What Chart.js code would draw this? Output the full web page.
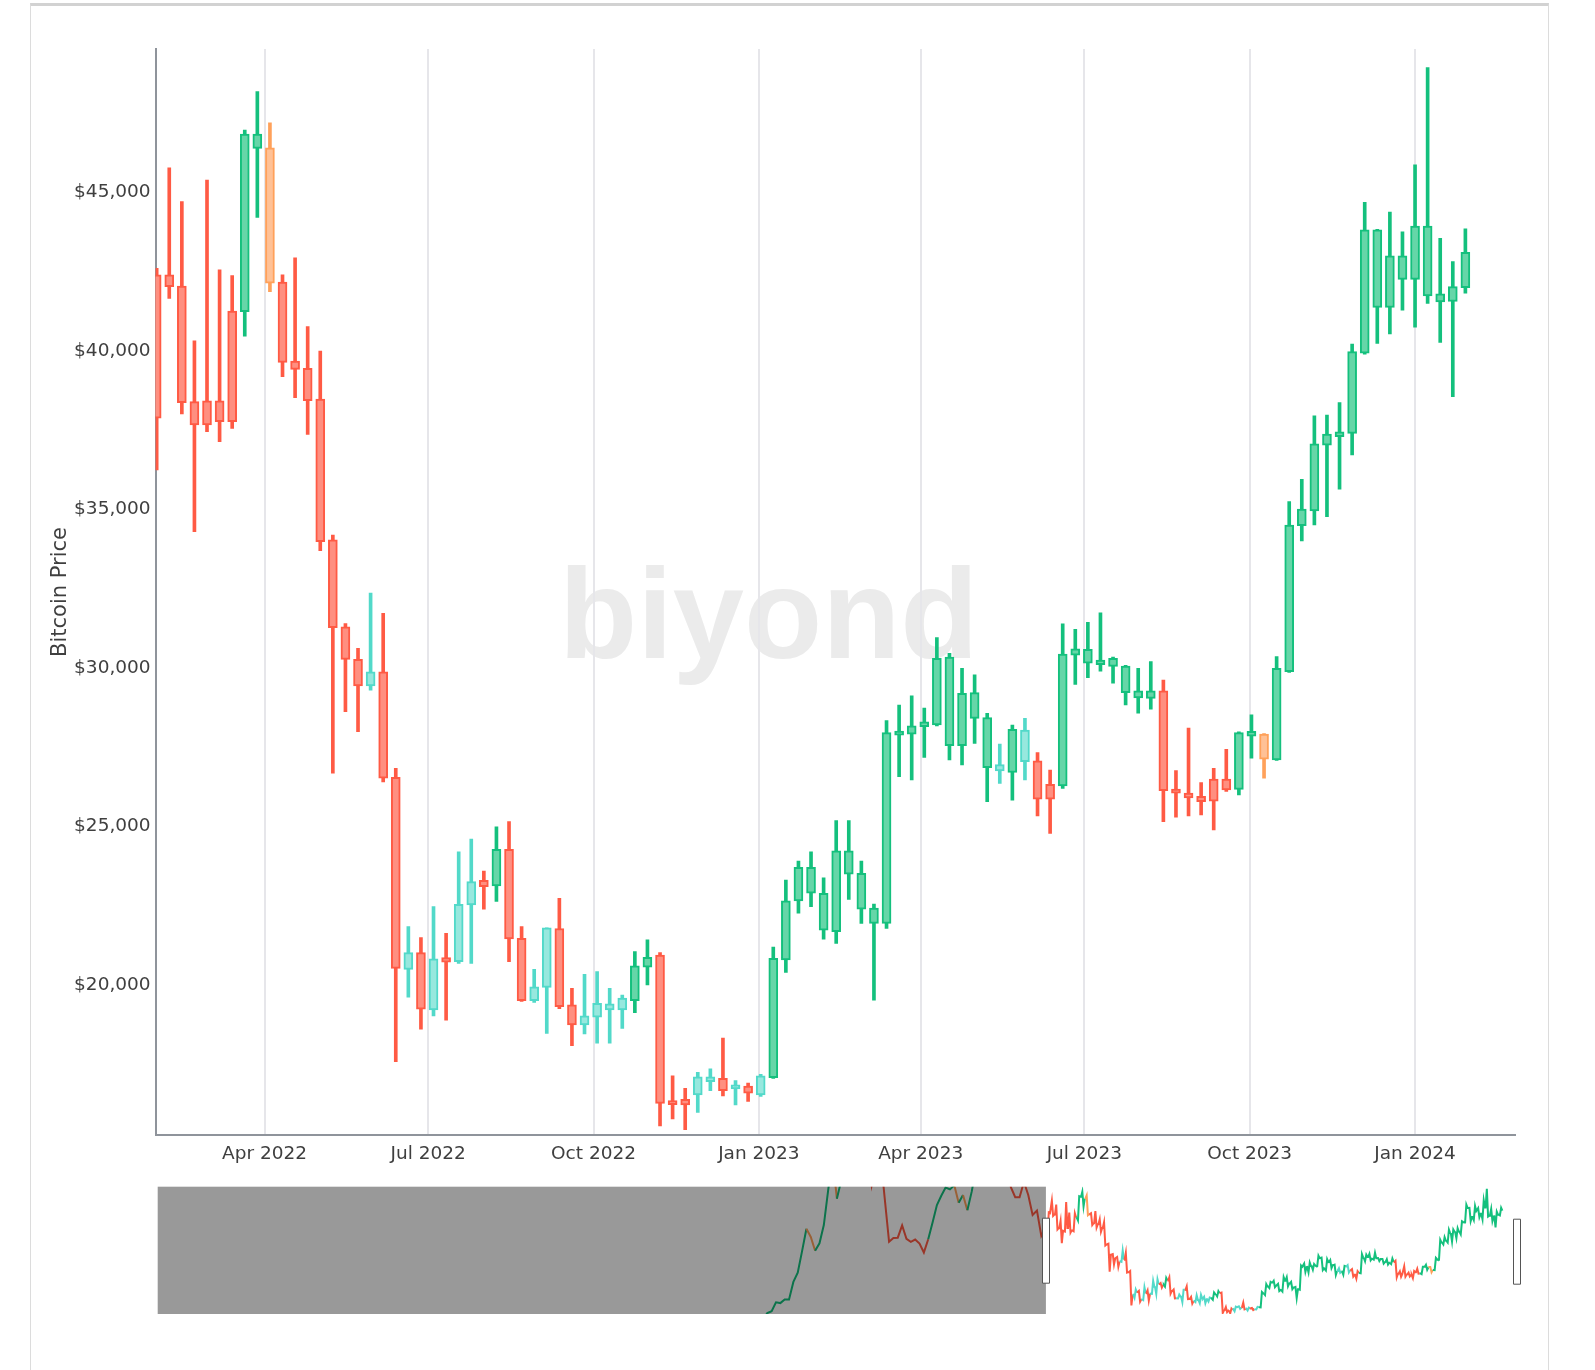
<!DOCTYPE html>
<html>
<head>
<meta charset="utf-8">
<title>Bitcoin Price</title>
<script src="https://cdn.jsdelivr.net/npm/chart.js@4.4.1/dist/chart.umd.min.js"></script>
<style>
  html, body { margin: 0; padding: 0; background: #fff; }
  #page { position: relative; width: 1595px; height: 1370px; overflow: hidden; }
  #frame { position: absolute; left: 30px; top: 3px; width: 1517px; height: 1400px;
           border-top: 3px solid #d2d2d2; border-left: 1px solid #dcdcdc; border-right: 1px solid #dcdcdc; }
  #watermark { position: absolute; left: 559px; top: 550px; font: bold 128px 'Liberation Sans', Arial, sans-serif;
               line-height: 128px; color: #ebebeb; white-space: nowrap; }
  #priceChart { position: absolute; left: 0; top: 0; }
  #navChart { position: absolute; left: 150px; top: 1180px; }
</style>
</head>
<body>
<div id="page">
  <div id="frame"></div>
  <div id="watermark">biyond</div>
  <canvas id="priceChart" width="1595" height="1180"></canvas>
  <canvas id="navChart" width="1376" height="140"></canvas>
</div>
<script>
// weekly candles, first week starts on this Monday
const firstWeek = '2022-01-31';

const openPrice = [
  37880, 42400, 42050, 38400, 37670, 38430, 37770, 41240, 46840, 46410, 42170, 39680, 39450, 38480, 34040,
  31300, 30270, 29430, 29880, 26550, 20490, 21020, 19210, 20860, 20730, 22520, 23300, 23120, 24280, 21470,
  19500, 19920, 21780, 19370, 18740, 18980, 19400, 19210, 19500, 20560, 20940, 16300, 16210, 16530, 17100,
  17050, 16720, 16810, 16530, 17070, 20790, 22650, 23710, 22890, 21680, 24230, 23520, 22420, 21940, 27960,
  27910, 28150, 28200, 30340, 27550, 29220, 28430, 26950, 26700, 28040, 27070, 25860, 26280, 30400, 30590,
  30100, 30300, 30060, 29280, 29040, 29280, 26130, 26050, 25950, 25800, 26490, 26170, 28000, 27910, 27100,
  29880, 34490, 34950, 37030, 37300, 37400, 39930, 43820, 41370, 43000, 42260, 43940, 41800, 41560, 42000
];
const highPrice = [
  42610, 45780, 44710, 40320, 45390, 42560, 42380, 46970, 48180, 47200, 42400, 42940, 40770, 40000, 34190,
  31400, 30620, 32360, 31720, 26830, 21840, 21490, 22470, 21630, 24200, 24600, 23590, 24990, 25150, 21840,
  20490, 21800, 22730, 19890, 20330, 20420, 19890, 19680, 21050, 21420, 21020, 17130, 16740, 17240, 17350,
  18320, 16980, 16900, 17180, 21190, 23310, 23910, 24200, 23380, 25180, 25180, 23910, 22550, 28340, 28830,
  29120, 28730, 30960, 30460, 29990, 29780, 28570, 27600, 28200, 28410, 27330, 26780, 31390, 31220, 31440,
  31740, 30340, 30080, 29990, 30200, 29620, 26760, 28100, 26380, 26830, 27430, 27980, 28520, 27930, 30360,
  35250, 35950, 37950, 37980, 38370, 40220, 44690, 43840, 44380, 43760, 45870, 48940, 43550, 42820, 43850
];
const lowPrice = [
  36250, 41660, 38010, 34300, 37450, 37140, 37560, 40470, 44210, 41870, 39190, 38530, 37370, 33700, 26680,
  28620, 27990, 29300, 26400, 17580, 19610, 18600, 19020, 18890, 20680, 20680, 22390, 22630, 20730, 19480,
  19450, 18470, 19250, 18080, 18450, 18160, 18160, 18630, 19120, 20000, 15550, 15770, 15430, 15980, 16660,
  16500, 16210, 16320, 16480, 17050, 20390, 22260, 22470, 21440, 21310, 22700, 21940, 19520, 21780, 26570,
  26470, 27180, 28170, 27100, 26940, 27620, 25780, 26360, 25830, 26470, 25330, 24780, 26200, 29480, 29690,
  29900, 29520, 28830, 28570, 28700, 25150, 25290, 25330, 25360, 24890, 26100, 25990, 27150, 26520, 27080,
  29860, 34010, 34510, 34770, 35640, 36720, 39900, 40240, 40540, 41290, 40750, 41500, 40270, 38560, 41820
];
const closePrice = [
  42400, 42030, 38370, 37670, 38430, 37770, 41260, 46840, 46390, 42140, 39640, 39420, 38430, 33980, 31270,
  30270, 29430, 29880, 26520, 20520, 21020, 19230, 20820, 20720, 22540, 23260, 23100, 24280, 21450, 19500,
  19940, 21800, 19310, 18740, 19020, 19420, 19210, 19580, 20600, 20870, 16260, 16220, 16390, 17100, 16950,
  16660, 16850, 16580, 17130, 20840, 22650, 23710, 22890, 21730, 24230, 23490, 22390, 21940, 27960, 27880,
  28170, 28300, 30300, 27550, 29200, 28410, 26850, 26750, 28060, 27040, 25860, 26330, 30440, 30600, 30150,
  30250, 30050, 29220, 29050, 29280, 26130, 26050, 25900, 25780, 26490, 26150, 27960, 27850, 27120, 29990,
  34510, 35010, 37070, 37380, 37450, 39980, 43820, 41370, 43000, 42260, 43940, 41740, 41550, 42030, 43110
];
// R = bearish, G = bullish, C = bullish in a falling market, O = bearish in a rising market
const signal = [
  'R','R','R','R','R','R','R','G','G','O','R','R','R','R','R',
  'R','R','C','R','R','C','R','C','R','C','C','R','G','R','R',
  'C','C','R','R','C','C','C','C','G','G','R','R','R','C','C',
  'R','C','R','C','G','G','G','G','G','G','G','G','G','G','G',
  'G','G','G','G','G','G','G','C','G','C','R','R','G','G','G',
  'G','G','G','G','G','R','R','R','R','R','R','G','G','O','G',
  'G','G','G','G','G','G','G','G','G','G','G','G','G','G','G'
];

// earlier weekly closes, only shown in the navigator
const historyStart = '2020-10-05';
const historyClose = [
  11400, 11500, 13000, 13800, 15500, 16000, 18400, 18200, 19200, 19200, 23900, 26400, 32200,
  38200, 36000, 32300, 34300, 39200, 48600, 57500, 46300, 51200, 61200, 58000, 55800, 58800,
  60000, 60000, 50000, 56600, 58200, 46400, 34700, 35700, 35800, 39100, 35500, 34700, 35300,
  34200, 31800, 35400, 39900, 44600, 47100, 49300, 48800, 49900, 45200, 47300, 43200, 48200,
  54700, 61500, 60900, 61300, 63300, 65500, 58600, 57300, 49400, 46700, 46700, 50800, 47300,
  41900, 43100, 36300, 38500
];
const historySignal = [
  'G','G','G','G','G','G','G','G','G','G','G','G','G',
  'G','O','O','G','G','G','G','O','G','G','G','G','G',
  'G','G','R','R','R','R','R','R','R','R','R','R','R',
  'R','R','R','G','G','G','G','G','G','O','G','O','G',
  'G','G','G','G','G','G','R','R','R','R','R','R','R',
  'R','R','R','R'
];

const tickDates = ['2022-04-01', '2022-07-01', '2022-10-01', '2023-01-01', '2023-04-01', '2023-07-01', '2023-10-01', '2024-01-01'];
const tickLabels = ['Apr 2022', 'Jul 2022', 'Oct 2022', 'Jan 2023', 'Apr 2023', 'Jul 2023', 'Oct 2023', 'Jan 2024'];
const priceTicks = [20000, 25000, 30000, 35000, 40000, 45000];

const toDay = s => Date.parse(s + 'T00:00:00Z') / 86400000;
const viewStart = toDay('2022-01-30') + 0.4;
const viewEnd = toDay('2024-02-25') + 0.6;
const navStart = toDay('2018-03-03');
const priceMin = 15264, priceMax = 49527;

const palette = {
  R: { line: '#ff5a44', fill: '#ff8f80' },
  G: { line: '#14c07d', fill: '#66d6a8' },
  C: { line: '#52d9c9', fill: '#97e8de' },
  O: { line: '#ffa15a', fill: '#ffc196' }
};
const pick = (key) => (c) => c.dataIndex === undefined ? '#999' : palette[signal[c.dataIndex]][key];

const weekDay = openPrice.map((_, i) => toDay(firstWeek) + 7 * i);

Chart.defaults.font.family = "'DejaVu Sans', sans-serif";
Chart.defaults.color = '#3f3f3f';

new Chart(document.getElementById('priceChart'), {
  type: 'bar',
  data: {
    datasets: [
      {
        label: 'Open / Close',
        data: weekDay.map((d, i) => ({ x: d, y: [openPrice[i], closePrice[i]] })),
        backgroundColor: pick('fill'),
        borderColor: pick('line'),
        borderWidth: 2,
        borderSkipped: false,
        barThickness: 9,
        minBarLength: 4,
        grouped: false
      },
      {
        label: 'High / Low',
        data: weekDay.map((d, i) => ({ x: d, y: [lowPrice[i], highPrice[i]] })),
        backgroundColor: pick('line'),
        borderWidth: 0,
        barThickness: 3,
        grouped: false
      }
    ]
  },
  options: {
    responsive: false,
    animation: false,
    events: [],
    layout: { padding: { left: 40, top: 49, right: 80, bottom: 0 } },
    plugins: { legend: { display: false }, tooltip: { enabled: false } },
    scales: {
      x: {
        type: 'linear',
        min: viewStart,
        max: viewEnd,
        offset: false,
        grid: { color: '#e6e6ea', lineWidth: 2, drawTicks: false, offset: false },
        border: { display: true, color: '#8f949b', width: 2 },
        ticks: {
          autoSkip: false,
          maxRotation: 0,
          padding: 8,
          font: { size: 18.5 },
          callback: (v, i) => tickLabels[i]
        },
        afterBuildTicks: s => { s.ticks = tickDates.map(d => ({ value: toDay(d) })); },
        afterFit: s => { s.height = 45; }
      },
      y: {
        type: 'linear',
        min: priceMin,
        max: priceMax,
        grid: { display: false, drawTicks: false },
        border: { display: true, color: '#8f949b', width: 2 },
        ticks: {
          padding: 5,
          font: { size: 18.5 },
          callback: v => '$' + v.toLocaleString('en-US')
        },
        title: { display: true, text: 'Bitcoin Price', color: '#3f3f3f', font: { size: 21 }, padding: { top: 8, bottom: 0 } },
        afterBuildTicks: s => { s.ticks = priceTicks.map(v => ({ value: v })); },
        afterFit: s => { s.width = 115.6; }
      }
    }
  }
});

// navigator: earlier closes, then each candle walked open -> extreme -> extreme -> close
const navPoints = historyClose.map((v, i) => ({ x: toDay(historyStart) + 7 * i + 6, y: v, s: historySignal[i] }));
weekDay.forEach((d, i) => {
  const s = signal[i];
  const up = closePrice[i] >= openPrice[i];
  const a = up ? lowPrice[i] : highPrice[i];
  const b = up ? highPrice[i] : lowPrice[i];
  navPoints.push({ x: d, y: openPrice[i], s }, { x: d + 2, y: a, s }, { x: d + 4, y: b, s }, { x: d + 6, y: closePrice[i], s });
});

const windowMask = {
  id: 'windowMask',
  afterDatasetsDraw(chart) {
    const { ctx, chartArea: a, scales: { x } } = chart;
    const left = x.getPixelForValue(viewStart);
    ctx.save();
    ctx.fillStyle = 'rgba(0,0,0,0.4)';
    ctx.fillRect(a.left, a.top, left - a.left, a.bottom - a.top);
    const handle = (cx, top) => {
      ctx.beginPath();
      ctx.rect(Math.round(cx - 3.5) + 0.5, top + 0.5, 7, 65);
      ctx.fillStyle = '#fff';
      ctx.fill();
      ctx.strokeStyle = '#555';
      ctx.lineWidth = 1;
      ctx.stroke();
    };
    handle(left, a.top + 31);
    handle(a.right + 1, a.top + 32);
    ctx.restore();
  }
};

new Chart(document.getElementById('navChart'), {
  type: 'line',
  data: {
    datasets: [{
      label: 'Close',
      data: navPoints,
      borderWidth: 2,
      borderColor: '#14c07d',
      pointRadius: 0,
      tension: 0,
      segment: { borderColor: c => palette[navPoints[c.p1DataIndex].s].line }
    }]
  },
  options: {
    responsive: false,
    animation: false,
    events: [],
    layout: { padding: { left: 7.7, right: 10.2, top: 6.7, bottom: 6 } },
    plugins: { legend: { display: false }, tooltip: { enabled: false } },
    scales: {
      x: { type: 'linear', min: navStart, max: viewEnd, display: false },
      y: { type: 'linear', min: priceMin, max: priceMax, display: false }
    }
  },
  plugins: [windowMask]
});
</script>
</body>
</html>
